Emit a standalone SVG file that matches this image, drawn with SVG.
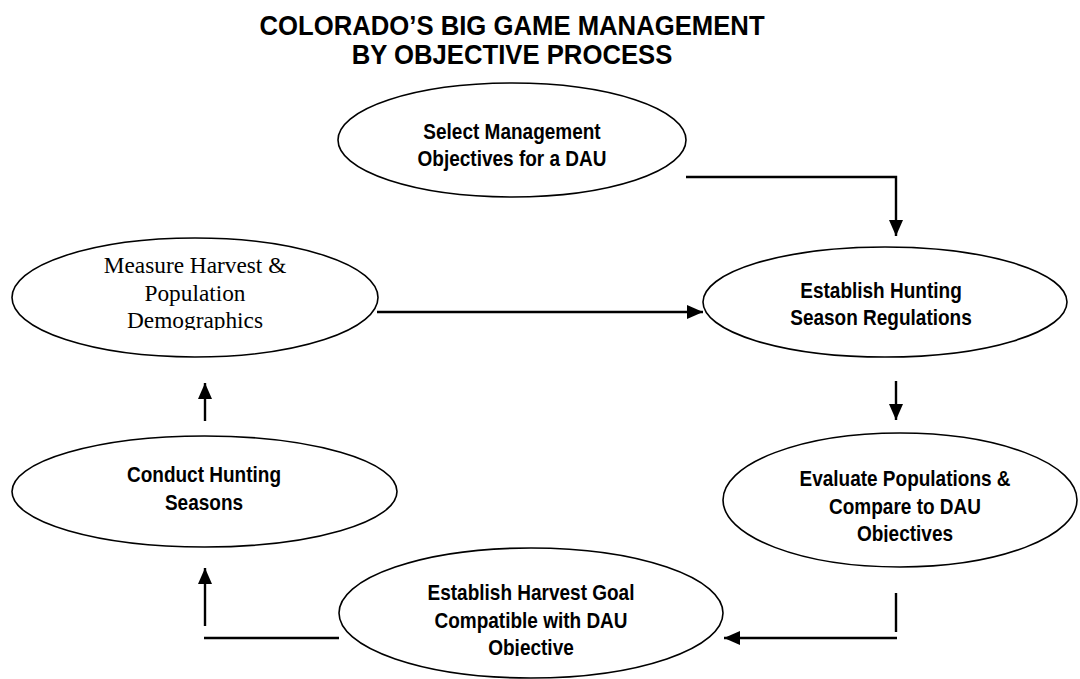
<svg xmlns="http://www.w3.org/2000/svg" width="1080" height="679" viewBox="0 0 1080 679">
<style>
.node ellipse{fill:#fff;stroke:#000;stroke-width:1.6}
.t{font-family:"Liberation Sans",Arial,sans-serif;font-weight:bold;font-size:19px;text-anchor:middle;fill:#000}
.ts{font-family:"Liberation Serif","Times New Roman",serif;font-size:22px;text-anchor:middle;fill:#000}
.title{font-family:"Liberation Sans",Arial,sans-serif;font-weight:bold;font-size:25.7px;text-anchor:middle;fill:#000}
.conn line,.conn path{stroke:#000;stroke-width:2.4;fill:none}
</style>
<defs>
<marker id="ah" viewBox="0 0 16 14" refX="16" refY="7" markerWidth="16" markerHeight="14" markerUnits="userSpaceOnUse" orient="auto">
<path d="M0,0 L16,7 L0,14 Z" fill="#000"/>
</marker>
<clipPath id="c1"><rect x="0" y="0" width="1080" height="330"/></clipPath>
<clipPath id="c2"><rect x="0" y="0" width="1080" height="542"/></clipPath>
<clipPath id="c3"><rect x="0" y="0" width="1080" height="656"/></clipPath>
</defs>
<rect width="1080" height="679" fill="#fff"/>
<g id="title">
<text class="title" transform="translate(512,35) scale(1,1.1)">COLORADO’S BIG GAME MANAGEMENT</text>
<text class="title" transform="translate(512,64) scale(1,1.1)">BY OBJECTIVE PROCESS</text>
</g>
<g class="conn" id="connectors">
<path d="M686,177 H896 V236" marker-end="url(#ah)"/>
<line x1="377" y1="312" x2="703" y2="312" marker-end="url(#ah)"/>
<line x1="896" y1="381" x2="896" y2="420" marker-end="url(#ah)"/>
<line x1="896" y1="593" x2="896" y2="632"/>
<line x1="897" y1="638" x2="724" y2="638" marker-end="url(#ah)"/>
<line x1="339" y1="638" x2="204" y2="638"/>
<line x1="205" y1="626" x2="205" y2="568" marker-end="url(#ah)"/>
<line x1="205" y1="421" x2="205" y2="383" marker-end="url(#ah)"/>
</g>
<g class="node" id="select">
<ellipse cx="512" cy="140" rx="174" ry="57"/>
<text class="t" transform="translate(512,139) scale(1,1.15)">Select Management</text>
<text class="t" transform="translate(512,166) scale(1,1.15)">Objectives for a DAU</text>
</g>
<g class="node" id="establish-hunting">
<ellipse cx="885" cy="302" rx="182" ry="55"/>
<text class="t" transform="translate(881,298) scale(1,1.15)">Establish Hunting</text>
<text class="t" transform="translate(881,325) scale(1,1.15)">Season Regulations</text>
</g>
<g class="node" id="measure">
<ellipse cx="195" cy="297.5" rx="183" ry="59.5"/>
<g clip-path="url(#c1)">
<text class="ts" transform="translate(195,273) scale(1.06,1.05)">Measure Harvest &amp;</text>
<text class="ts" transform="translate(195,301) scale(1.06,1.05)">Population</text>
<text class="ts" transform="translate(195,328) scale(1.06,1.05)">Demographics</text>
</g>
</g>
<g class="node" id="evaluate">
<ellipse cx="900" cy="500" rx="177" ry="67"/>
<g clip-path="url(#c2)">
<text class="t" transform="translate(905,486) scale(1,1.15)">Evaluate Populations &amp;</text>
<text class="t" transform="translate(905,514) scale(1,1.15)">Compare to DAU</text>
<text class="t" transform="translate(905,541) scale(1,1.15)">Objectives</text>
</g>
</g>
<g class="node" id="conduct">
<ellipse cx="204.5" cy="491.5" rx="192.5" ry="55.5"/>
<text class="t" transform="translate(204,482) scale(1,1.15)">Conduct Hunting</text>
<text class="t" transform="translate(204,510) scale(1,1.15)">Seasons</text>
</g>
<g class="node" id="harvest-goal">
<ellipse cx="531" cy="613" rx="192" ry="65"/>
<g clip-path="url(#c3)">
<text class="t" transform="translate(531,600) scale(1,1.15)">Establish Harvest Goal</text>
<text class="t" transform="translate(531,628) scale(1,1.15)">Compatible with DAU</text>
<text class="t" transform="translate(531,655) scale(1,1.15)">Objective</text>
</g>
</g>
</svg>
